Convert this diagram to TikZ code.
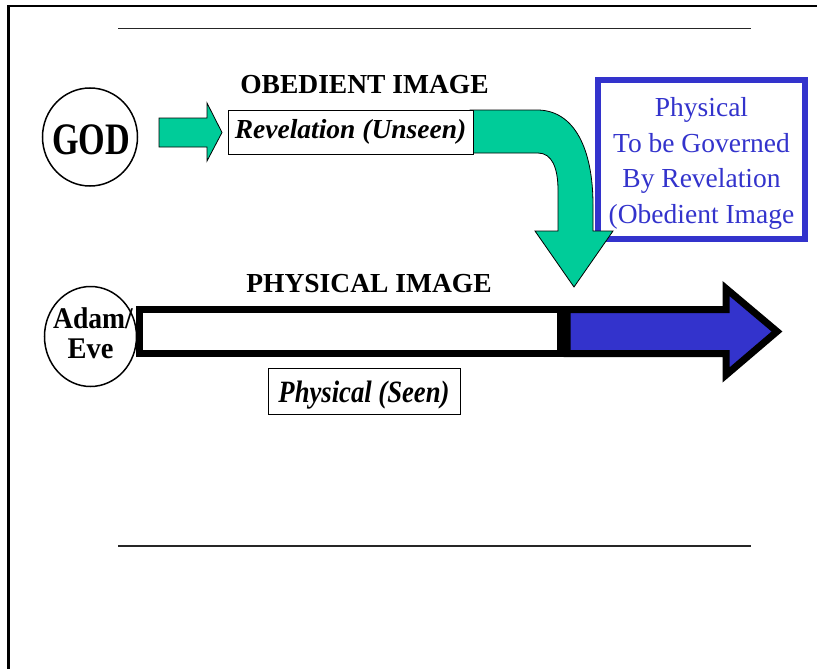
\documentclass[tikz,border=0pt]{standalone}
\usepackage{fontspec}
\setmainfont{Liberation Serif}
\usetikzlibrary{shapes.geometric}
\definecolor{tealfill}{RGB}{0,204,153}
\definecolor{bluefill}{RGB}{51,51,204}
\tikzset{
  frameline/.style={line width=2.7pt, black},
  ruleline/.style={line width=1.5pt, black!85},
  tealshape/.style={fill=tealfill, draw=black, line width=0.8pt, line join=miter},
  thinbox/.style={draw=black, line width=1pt, fill=white, inner sep=0pt},
  oval/.style={ellipse, draw=black, line width=1.5pt, fill=white, inner sep=0pt},
  heading/.style={font=\bfseries\fontsize{27.5}{30}\selectfont, anchor=base, inner sep=0pt},
  bluetext/.style={font=\fontsize{27.5}{30}\selectfont, text=bluefill, anchor=base, inner sep=0pt},
  thickbar/.style={draw=black, line width=7pt, line join=miter, miter limit=10}
}
\begin{document}
\begin{tikzpicture}[x=1pt, y=-1pt]
\useasboundingbox (0,0) rectangle (817,669);
% frame
\draw[frameline] (8.5,669) -- (8.5,6) -- (817,6);
% rules
\draw[ruleline] (118,28.5) -- (751,28.5);
\draw[ruleline] (118,546) -- (751,546);

% GOD
\node[oval, minimum width=95pt, minimum height=98pt] (god) at (90,137) {};
\node[font=\bfseries\fontsize{45}{48}\selectfont, anchor=base, inner sep=0pt] (godtext) at (91,154.3) {\scalebox{0.76}[1]{GOD}};

% small teal arrow
\draw[tealshape] (159,118) -- (207,118) -- (207,103) -- (222,132.5) -- (207,161) -- (207,147) -- (159,147) -- cycle;

% heading
\node[heading] (obedient) at (364.5,93) {OBEDIENT IMAGE};

% blue box
\node[draw=bluefill, line width=6pt, fill=white, minimum width=207pt, minimum height=159pt, inner sep=0pt] (physbox) at (701.5,159.5) {};
\node[bluetext] (b1) at (701.5,117) {Physical};
\node[bluetext] (b2) at (701.5,152.3) {To be Governed};
\node[bluetext] (b3) at (701.5,187.6) {By Revelation};
\node[bluetext] (b4) at (701.5,223) {(Obedient Image};

% curved teal arrow
\draw[tealshape] (470,110) -- (537,110) .. controls (575,110) and (593,150) .. (593,205) -- (593,231) -- (613,231) -- (574,287) -- (535,231) -- (558,231) -- (558,190) .. controls (558,168) and (552,153) .. (538,153) -- (470,153) -- cycle;

% revelation box
\node[thinbox, minimum width=245pt, minimum height=44pt] (rev) at (350.5,132) {};
\node[font=\bfseries\itshape\fontsize{27.5}{30}\selectfont, anchor=base, inner sep=0pt] (revtext) at (350.5,138) {Revelation (Unseen)};

% long bar
\draw[thickbar, fill=white] (139.5,309.5) rectangle (560.5,353.5);
\draw[thickbar, fill=bluefill] (567,309.5) -- (726,309.5) -- (726,288.5) -- (777,331.5) -- (726,375) -- (726,353.5) -- (567,353.5) -- cycle;

% Adam/Eve
\node[oval, minimum width=92pt, minimum height=100pt] (adam) at (90.5,336.5) {};
\node[font=\bfseries\fontsize{30}{30}\selectfont, anchor=base, inner sep=0pt] (adamtext) at (93,328) {\scalebox{0.92}[1]{Adam/}};
\node[font=\bfseries\fontsize{30}{30}\selectfont, anchor=base, inner sep=0pt] (evetext) at (90.5,358) {\scalebox{0.95}[1]{Eve}};

% physical image heading
\node[heading] (physimg) at (369,292) {PHYSICAL IMAGE};

% physical seen box
\node[thinbox, minimum width=192pt, minimum height=46pt] (seen) at (364,391) {};
\node[font=\bfseries\itshape\fontsize{31}{33}\selectfont, anchor=base, inner sep=0pt] (seentext) at (364,402.7) {\scalebox{0.86}[1]{Physical (Seen)}};
\end{tikzpicture}
\end{document}
